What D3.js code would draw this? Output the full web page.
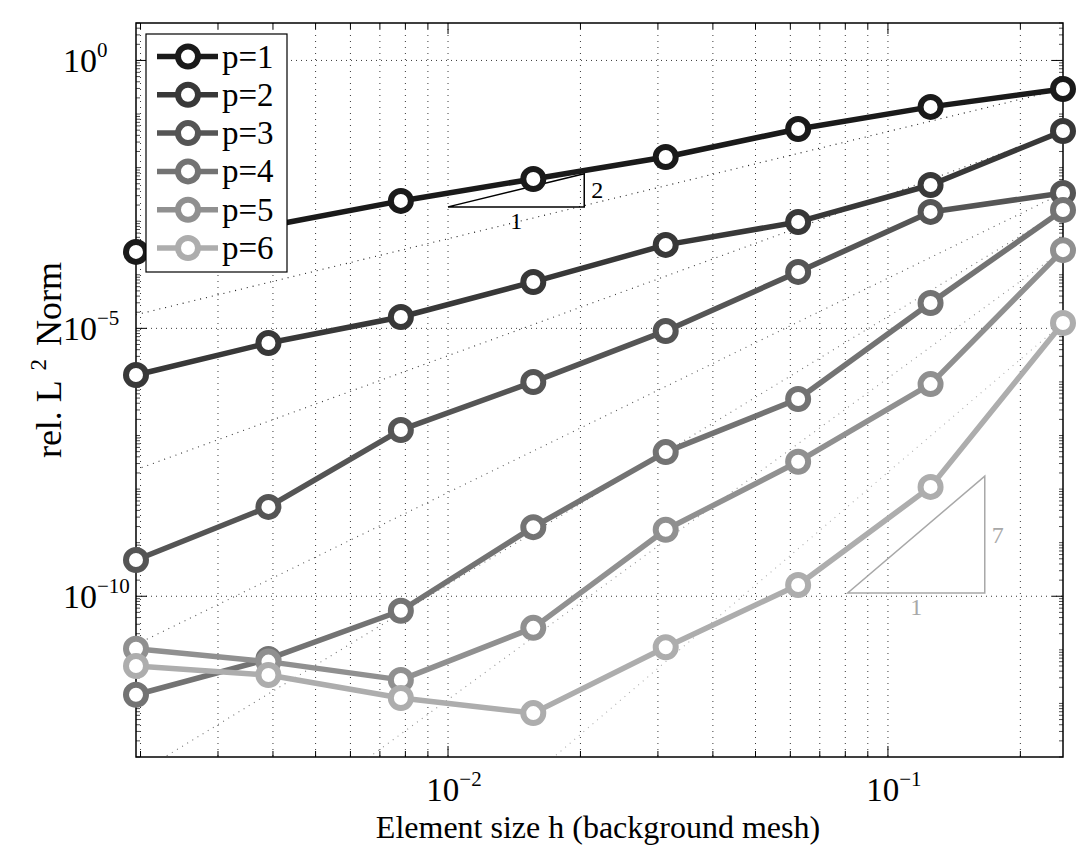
<!DOCTYPE html>
<html><head><meta charset="utf-8">
<script src="https://cdn.jsdelivr.net/npm/d3@7"></script>
<style>
body{margin:0;background:#fff}
text{font-family:"Liberation Serif","Times New Roman",serif;fill:#000}
</style>
</head><body>
<svg id="c" width="1084" height="848"></svg>
<script>
// ---- data ----
const hValues = [1/512, 1/256, 1/128, 1/64, 1/32, 1/16, 1/8, 1/4];
const seriesNames = ["p=1", "p=2", "p=3", "p=4", "p=5", "p=6"];
const p1 = [2.67e-4, 8.15e-4, 2.39e-3, 6.14e-3, 1.58e-2, 5.27e-2, 1.36e-1, 2.94e-1];
const p2 = [1.35e-6, 5.33e-6, 1.63e-5, 7.35e-5, 3.61e-4, 9.68e-4, 4.74e-3, 4.83e-2];
const p3 = [4.75e-10, 4.65e-9, 1.27e-7, 1.0e-6, 8.95e-6, 1.13e-4, 1.49e-3, 3.37e-3];
const p4 = [1.45e-12, 6.76e-12, 5.37e-11, 1.95e-9, 4.9e-8, 4.79e-7, 2.98e-5, 1.62e-3];
const p5 = [1.05e-11, 6.03e-12, 2.75e-12, 2.57e-11, 1.74e-9, 3.24e-8, 9.12e-7, 2.88e-4];
const p6 = [5.0e-12, 3.39e-12, 1.26e-12, 6.6e-13, 1.12e-11, 1.62e-10, 1.10e-8, 1.26e-5];
const seriesValues = [p1, p2, p3, p4, p5, p6];
const refSlopes = [2, 3, 4, 5, 6, 7];            // reference rates h^(p+1)
const xTickValues = [0.01, 0.1];
const xTickExponents = ["\u22122", "\u22121"];
const yTickValues = [1, 1e-5, 1e-10];
const yTickExponents = ["0", "\u22125", "\u221210"];
const slopeTriangles = [
  {h0: 0.01, h1: 0.0204, e0: 1.85e-3, slope: 2, label: "2"},
  {h0: 0.081, h1: 0.166, e0: 1.15e-10, slope: 7, label: "7"}
];

// ---- styles / layout ----
const colors = ["#1a1a1a", "#383838", "#555555", "#737373", "#909090", "#adadad"];
const triColors = ["#000000", "#a8a8a8"];
const L = 136, R = 1063, T = 23, B = 757;

const svg = d3.select("#c");
const x = d3.scaleLog().domain([1/512, 1/4]).range([L, R]);
const y = d3.scaleLog().domain([1e-13, 5]).range([B, T]);

svg.append("defs").append("clipPath").attr("id", "clip")
  .append("rect").attr("x", L).attr("y", T).attr("width", R - L).attr("height", B - T);

// grid
const grid = svg.append("g");
const xMinor = [];
for (let k = -3; k <= -1; k++) for (let m = 1; m <= 9; m++) {
  const v = m * Math.pow(10, k);
  if (v > x.domain()[0] * 1.001 && v < x.domain()[1] * 0.999) xMinor.push(v);
}
grid.selectAll(".vg").data(xMinor).enter().append("line")
  .attr("x1", d => x(d)).attr("x2", d => x(d)).attr("y1", T).attr("y2", B)
  .attr("stroke", "#222").attr("stroke-width", 0.9).attr("stroke-dasharray", "1,5");
grid.selectAll(".hg").data(yTickValues).enter().append("line")
  .attr("x1", L).attr("x2", R).attr("y1", d => y(d)).attr("y2", d => y(d))
  .attr("stroke", "#222").attr("stroke-width", 0.9).attr("stroke-dasharray", "1,4");

// axes box & ticks
const ax = svg.append("g");
ax.append("rect").attr("x", L).attr("y", T).attr("width", R - L).attr("height", B - T)
  .attr("fill", "none").attr("stroke", "#000").attr("stroke-width", 1.5);
xMinor.forEach(v => {
  const major = xTickValues.some(t => Math.abs(t - v) < 1e-9);
  const len = major ? 11 : 6;
  ax.append("line").attr("x1", x(v)).attr("x2", x(v)).attr("y1", B).attr("y2", B - len).attr("stroke", "#000").attr("stroke-width", 1);
  ax.append("line").attr("x1", x(v)).attr("x2", x(v)).attr("y1", T).attr("y2", T + len).attr("stroke", "#000").attr("stroke-width", 1);
});
const yMinor = [];
for (let k = -13; k <= 0; k++) for (let m = 1; m <= 9; m++) {
  const v = m * Math.pow(10, k);
  if (v >= y.domain()[0] && v <= y.domain()[1]) yMinor.push(v);
}
yMinor.forEach(v => {
  const major = yTickValues.some(t => Math.abs(Math.log10(t) - Math.log10(v)) < 1e-6);
  const len = major ? 11 : 4;
  ax.append("line").attr("y1", y(v)).attr("y2", y(v)).attr("x1", L).attr("x2", L + len).attr("stroke", "#000").attr("stroke-width", major ? 1 : 0.7);
  ax.append("line").attr("y1", y(v)).attr("y2", y(v)).attr("x1", R).attr("x2", R - len).attr("stroke", "#000").attr("stroke-width", major ? 1 : 0.7);
});

// tick labels
xTickValues.forEach((v, i) => {
  const t = ax.append("text").attr("x", x(v) + 6).attr("y", 801).attr("text-anchor", "middle").attr("font-size", 33);
  t.append("tspan").text("10");
  t.append("tspan").attr("dy", -15).attr("font-size", 21).text(xTickExponents[i]);
});
yTickValues.forEach((v, i) => {
  const t = ax.append("text").attr("x", 63).attr("y", y(v) + 12).attr("text-anchor", "start").attr("font-size", 34);
  t.append("tspan").text("10");
  t.append("tspan").attr("dy", -15).attr("font-size", 21).text(yTickExponents[i]);
});

// axis labels
svg.append("text").attr("x", 598).attr("y", 838).attr("text-anchor", "middle").attr("font-size", 32)
  .text("Element size h (background mesh)");
const yl = svg.append("text").attr("transform", "translate(61,360) rotate(-90)").attr("text-anchor", "middle").attr("font-size", 36);
yl.append("tspan").text("rel. L");
yl.append("tspan").attr("dx", 4).attr("dy", -15).attr("font-size", 23).text(" 2");
yl.append("tspan").attr("dx", 4).attr("dy", 15).text(" Norm");

// reference lines
const refG = svg.append("g").attr("clip-path", "url(#clip)");
seriesValues.forEach((vals, i) => {
  const hL = hValues[hValues.length - 1], eL = vals[vals.length - 1];
  const s = refSlopes[i];
  const h0 = x.domain()[0];
  const e0 = eL * Math.pow(h0 / hL, s);
  refG.append("line").attr("x1", x(h0)).attr("y1", y(e0)).attr("x2", x(hL)).attr("y2", y(eL))
    .attr("stroke", colors[i]).attr("stroke-width", 1.1).attr("stroke-dasharray", "1,5");
});

// slope triangles
slopeTriangles.forEach((tr, i) => {
  const e1 = tr.e0 * Math.pow(tr.h1 / tr.h0, tr.slope);
  const pts = [[tr.h0, tr.e0], [tr.h1, tr.e0], [tr.h1, e1]];
  svg.append("path").attr("d", d3.line().x(d => x(d[0])).y(d => y(d[1]))(pts) + "Z")
    .attr("fill", "none").attr("stroke", triColors[i]).attr("stroke-width", 1.5);
  svg.append("text").attr("x", x(Math.sqrt(tr.h0 * tr.h1))).attr("y", y(tr.e0) + 22)
    .attr("text-anchor", "middle").attr("font-size", 24).style("fill", triColors[i]).text("1");
  svg.append("text").attr("x", x(tr.h1) + 7).attr("y", y(Math.sqrt(tr.e0 * e1)) + 8)
    .attr("text-anchor", "start").attr("font-size", 24).style("fill", triColors[i]).text(tr.label);
});

// series
const lineGen = d3.line().x(d => x(d[0])).y(d => y(d[1]));
seriesValues.forEach((vals, i) => {
  const pts = hValues.map((h, j) => [h, vals[j]]);
  const g = svg.append("g");
  g.append("path").attr("d", lineGen(pts)).attr("fill", "none").attr("stroke", colors[i])
    .attr("stroke-width", 5.5).attr("stroke-linejoin", "round");
  g.selectAll("circle").data(pts).enter().append("circle")
    .attr("cx", d => x(d[0])).attr("cy", d => y(d[1])).attr("r", 10)
    .attr("fill", "#fff").attr("stroke", colors[i]).attr("stroke-width", 6);
});

// legend
const lg = svg.append("g");
lg.append("rect").attr("x", 146).attr("y", 34).attr("width", 141).attr("height", 238)
  .attr("fill", "#fff").attr("stroke", "#000").attr("stroke-width", 1.2);
seriesNames.forEach((name, i) => {
  const cy = 56.5 + i * 38.3;
  lg.append("line").attr("x1", 157).attr("x2", 218).attr("y1", cy).attr("y2", cy)
    .attr("stroke", colors[i]).attr("stroke-width", 5.5);
  lg.append("circle").attr("cx", 188).attr("cy", cy).attr("r", 10)
    .attr("fill", "#fff").attr("stroke", colors[i]).attr("stroke-width", 6);
  lg.append("text").attr("x", 222).attr("y", cy + 11).attr("font-size", 33).text(name);
});
</script>
</body></html>
